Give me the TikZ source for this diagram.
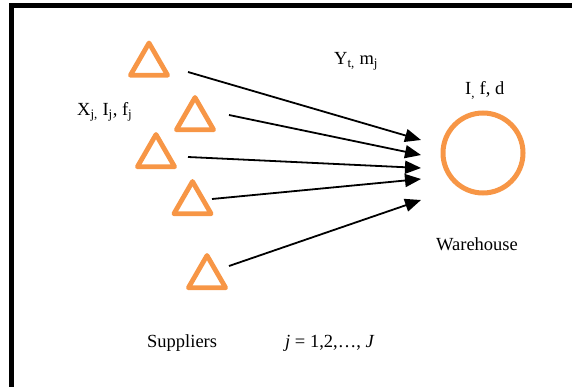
\documentclass[tikz,border=0pt]{standalone}
\usepackage{fontspec}
\setmainfont{Liberation Serif}
\usetikzlibrary{shapes.geometric,arrows.meta}
\definecolor{supplyorange}{RGB}{247,150,70}
\begin{document}
\begin{tikzpicture}[x=1pt,y=-1pt,
  supplier/.style={regular polygon,regular polygon sides=3,draw=supplyorange,
    line width=4.8pt,line join=round,minimum size=43pt,inner sep=0pt},
  depot/.style={circle,draw=supplyorange,line width=5pt,minimum size=80pt,inner sep=0pt},
  flow/.style={line width=1.8pt,-{Triangle[length=16pt,width=13pt]}},
  lbl/.style={font=\fontsize{18.5}{21}\selectfont,inner sep=0pt}]
  \useasboundingbox (0,0) rectangle (572,387);
  % outer frame, running off the right and bottom edges
  \begin{scope}
    \clip (0,0) rectangle (572,387);
    \draw[line width=5pt] (11,5.5) rectangle (600,420);
  \end{scope}

  % suppliers
  \node[supplier] (s1) at (149,64.5) {};
  \node[supplier] (s2) at (195,119) {};
  \node[supplier] (s3) at (156,156) {};
  \node[supplier] (s4) at (192.5,203) {};
  \node[supplier] (s5) at (207,277) {};

  % warehouse
  \node[depot] (w) at (483,153) {};

  % flow arrows
  \coordinate (a1) at (188,72);   \coordinate (b1) at (421,140);
  \coordinate (a2) at (229,115);  \coordinate (b2) at (421,155);
  \coordinate (a3) at (188,157);  \coordinate (b3) at (421,168);
  \coordinate (a4) at (212,199);  \coordinate (b4) at (421,179);
  \coordinate (a5) at (229,266);  \coordinate (b5) at (421,200);
  \foreach \i in {1,...,5} \draw[flow] (a\i) -- (b\i);

  % labels
  \node[lbl,anchor=base west] (lx) at (77,116) {X\textsubscript{j,} I\textsubscript{j}, f\textsubscript{j}};
  \node[lbl,anchor=base west] (ly) at (334,65) {Y\textsubscript{t,} m\textsubscript{j}};
  \node[lbl,anchor=base west] (li) at (465,95) {I\textsubscript{,} f, d};
  \node[lbl,anchor=base] (lw) at (477,250) {Warehouse};
  \node[lbl,anchor=base west] (ls) at (147,347) {Suppliers};
  \node[lbl,anchor=base west] (lj) at (285,347) {\textit{j} = 1,2,…, \textit{J}};
\end{tikzpicture}
\end{document}
